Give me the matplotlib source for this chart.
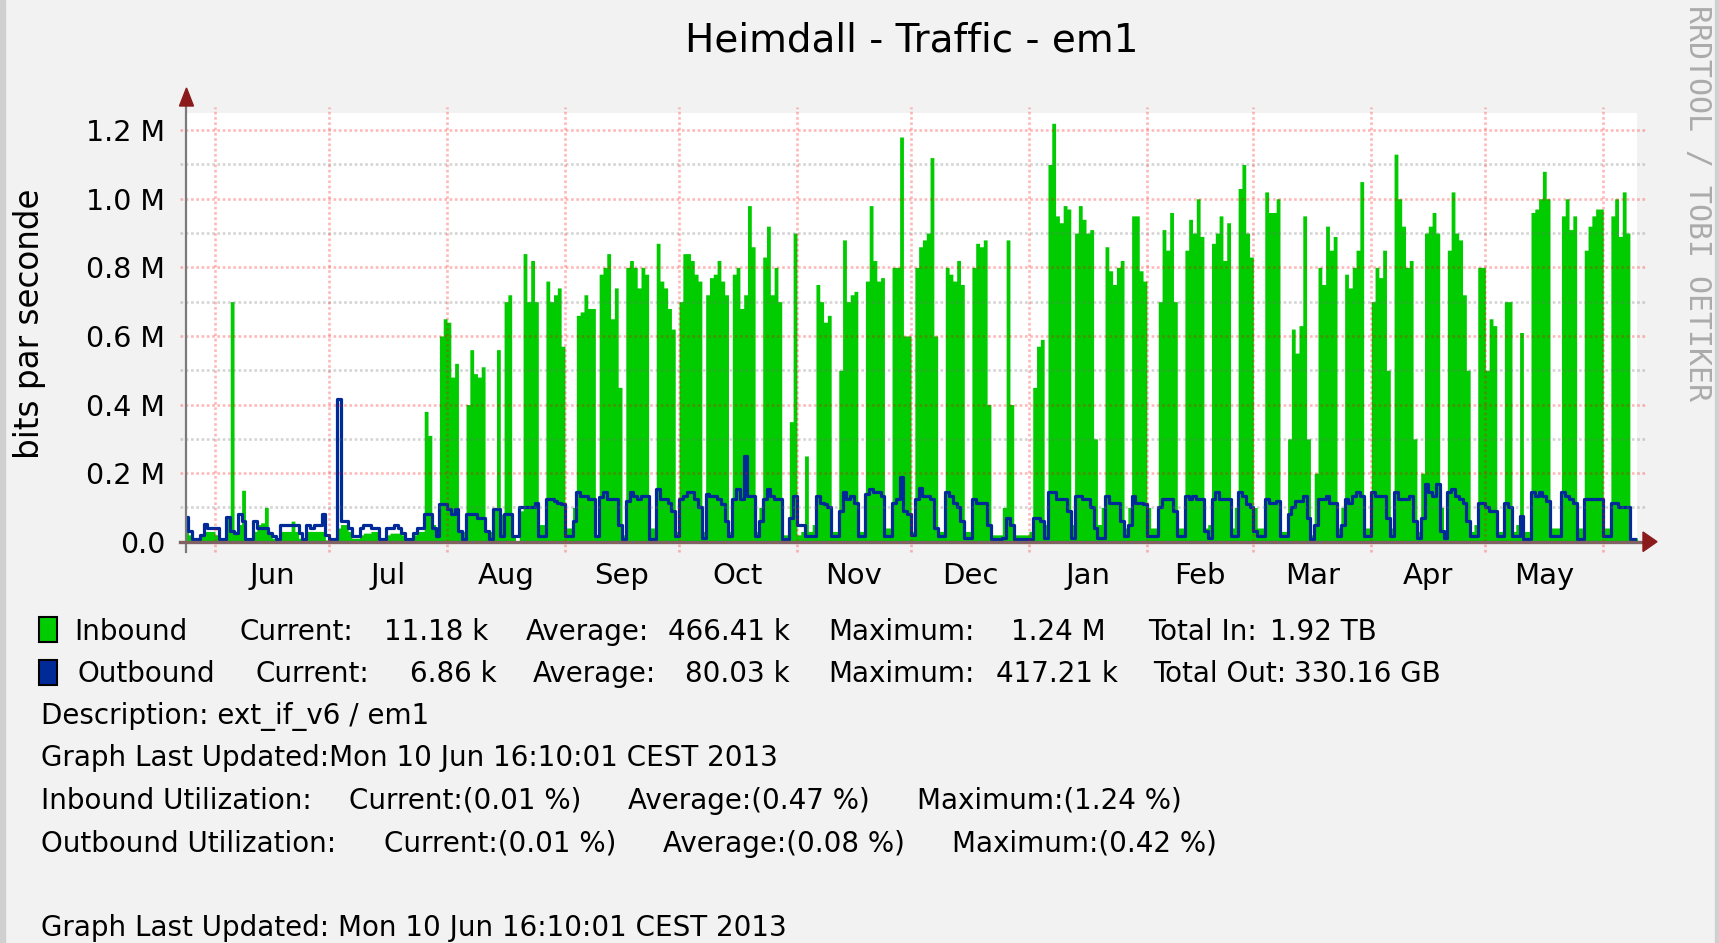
import numpy as np
import matplotlib
matplotlib.use("Agg")
import matplotlib.pyplot as plt
import matplotlib.dates as mdates
from matplotlib.patches import Rectangle, Polygon
from datetime import datetime

plt.rcParams['font.family'] = ['DejaVu Sans']

# ---------------- data ----------------
title = "Heimdall - Traffic - em1"
ylabel = "bits par seconde"
start_date = datetime(2012, 5, 24)          # first daily sample
month_starts = [datetime(2012, m, 1) for m in range(6, 13)] + \
               [datetime(2013, m, 1) for m in range(1, 7)]
month_labels = ['Jun', 'Jul', 'Aug', 'Sep', 'Oct', 'Nov', 'Dec',
                'Jan', 'Feb', 'Mar', 'Apr', 'May']
ytick_values = [0.0, 0.2, 0.4, 0.6, 0.8, 1.0, 1.2]
ytick_labels = ['0.0', '0.2 M', '0.4 M', '0.6 M', '0.8 M', '1.0 M', '1.2 M']

# daily averages, in M bits per second
inbound = [
    0.03, 0.02, 0.003, 0.003, 0.02, 0.03, 0.03, 0.03, 0.02, 0.003,
    0.003, 0.07, 0.70, 0.03, 0.05, 0.15, 0.003, 0.003, 0.03, 0.05,
    0.055, 0.10, 0.03, 0.01, 0.003, 0.03, 0.03, 0.03, 0.06, 0.03,
    0.01, 0.003, 0.03, 0.03, 0.03, 0.03, 0.03, 0.005, 0.003, 0.003,
    0.04, 0.05, 0.05, 0.03, 0.01, 0.01, 0.02, 0.025, 0.025, 0.03,
    0.03, 0.003, 0.003, 0.02, 0.025, 0.025, 0.025, 0.02, 0.003, 0.003,
    0.02, 0.03, 0.03, 0.38, 0.31, 0.05, 0.02, 0.60, 0.65, 0.64,
    0.48, 0.52, 0.03, 0.03, 0.40, 0.56, 0.49, 0.48, 0.51, 0.03,
    0.03, 0.10, 0.56, 0.08, 0.70, 0.72, 0.02, 0.003, 0.09, 0.84,
    0.70, 0.82, 0.70, 0.05, 0.05, 0.76, 0.70, 0.72, 0.74, 0.57,
    0.04, 0.04, 0.10, 0.66, 0.67, 0.72, 0.68, 0.68, 0.02, 0.78,
    0.80, 0.84, 0.65, 0.74, 0.45, 0.02, 0.80, 0.82, 0.80, 0.74,
    0.80, 0.78, 0.04, 0.04, 0.87, 0.76, 0.74, 0.68, 0.62, 0.03,
    0.70, 0.84, 0.84, 0.82, 0.78, 0.76, 0.03, 0.72, 0.77, 0.78,
    0.82, 0.76, 0.72, 0.03, 0.78, 0.80, 0.68, 0.72, 0.98, 0.86,
    0.03, 0.10, 0.83, 0.92, 0.72, 0.80, 0.70, 0.02, 0.02, 0.35,
    0.90, 0.02, 0.03, 0.25, 0.03, 0.05, 0.75, 0.70, 0.64, 0.66,
    0.03, 0.03, 0.50, 0.88, 0.70, 0.72, 0.73, 0.03, 0.03, 0.76,
    0.98, 0.82, 0.76, 0.77, 0.04, 0.04, 0.80, 0.80, 1.18, 0.60,
    0.60, 0.03, 0.80, 0.86, 0.88, 0.90, 1.12, 0.60, 0.03, 0.03,
    0.80, 0.78, 0.76, 0.82, 0.75, 0.03, 0.03, 0.80, 0.87, 0.86,
    0.88, 0.40, 0.02, 0.02, 0.02, 0.10, 0.88, 0.40, 0.02, 0.02,
    0.02, 0.02, 0.03, 0.45, 0.57, 0.59, 0.05, 1.10, 1.22, 0.95,
    0.93, 0.98, 0.97, 0.05, 0.90, 0.98, 0.94, 0.90, 0.91, 0.30,
    0.05, 0.10, 0.86, 0.79, 0.75, 0.80, 0.82, 0.04, 0.10, 0.95,
    0.95, 0.79, 0.76, 0.10, 0.04, 0.04, 0.70, 0.91, 0.85, 0.96,
    0.70, 0.04, 0.04, 0.85, 0.94, 0.90, 1.00, 0.89, 0.04, 0.05,
    0.87, 0.90, 0.95, 0.82, 0.93, 0.04, 0.10, 1.03, 1.10, 0.90,
    0.83, 0.10, 0.04, 0.04, 1.02, 0.96, 0.96, 1.00, 0.03, 0.03,
    0.30, 0.62, 0.55, 0.63, 0.95, 0.30, 0.02, 0.20, 0.80, 0.75,
    0.92, 0.85, 0.89, 0.04, 0.10, 0.78, 0.74, 0.80, 0.85, 1.05,
    0.04, 0.04, 0.70, 0.80, 0.77, 0.85, 0.50, 0.04, 1.13, 1.00,
    0.92, 0.80, 0.82, 0.30, 0.03, 0.20, 0.90, 0.92, 0.96, 0.90,
    0.10, 0.03, 0.85, 1.02, 0.90, 0.88, 0.72, 0.50, 0.03, 0.05,
    0.80, 0.80, 0.50, 0.65, 0.63, 0.03, 0.03, 0.70, 0.70, 0.03,
    0.05, 0.61, 0.03, 0.03, 0.96, 0.97, 1.00, 1.08, 1.00, 0.04,
    0.04, 0.04, 0.95, 1.00, 0.91, 0.95, 0.04, 0.04, 0.85, 0.92,
    0.95, 0.97, 0.97, 0.04, 0.04, 0.95, 1.00, 0.89, 1.02, 0.90,
    0.011, 0.011,
]
outbound = [
    0.072, 0.03, 0.007, 0.007, 0.02, 0.052, 0.04, 0.04, 0.04, 0.007,
    0.007, 0.072, 0.03, 0.026, 0.08, 0.06, 0.007, 0.007, 0.06, 0.04,
    0.04, 0.04, 0.026, 0.017, 0.007, 0.05, 0.05, 0.05, 0.05, 0.05,
    0.026, 0.007, 0.05, 0.04, 0.05, 0.05, 0.08, 0.02, 0.007, 0.007,
    0.415, 0.06, 0.06, 0.04, 0.017, 0.017, 0.04, 0.05, 0.05, 0.04,
    0.04, 0.007, 0.007, 0.04, 0.04, 0.05, 0.04, 0.026, 0.007, 0.007,
    0.026, 0.04, 0.04, 0.08, 0.08, 0.04, 0.017, 0.11, 0.11, 0.094,
    0.08, 0.094, 0.03, 0.007, 0.08, 0.08, 0.08, 0.07, 0.07, 0.03,
    0.007, 0.094, 0.094, 0.017, 0.08, 0.08, 0.017, 0.017, 0.10, 0.10,
    0.10, 0.10, 0.114, 0.017, 0.017, 0.124, 0.124, 0.12, 0.114, 0.11,
    0.017, 0.017, 0.06, 0.146, 0.133, 0.133, 0.124, 0.124, 0.017, 0.13,
    0.146, 0.124, 0.124, 0.124, 0.05, 0.007, 0.12, 0.146, 0.133, 0.124,
    0.133, 0.133, 0.007, 0.007, 0.155, 0.124, 0.124, 0.114, 0.09, 0.017,
    0.124, 0.133, 0.146, 0.146, 0.124, 0.10, 0.01, 0.14, 0.133, 0.133,
    0.124, 0.11, 0.06, 0.017, 0.124, 0.155, 0.124, 0.25, 0.133, 0.133,
    0.017, 0.06, 0.124, 0.155, 0.133, 0.124, 0.124, 0.007, 0.007, 0.07,
    0.133, 0.05, 0.05, 0.017, 0.017, 0.017, 0.133, 0.114, 0.11, 0.10,
    0.017, 0.017, 0.09, 0.146, 0.124, 0.133, 0.114, 0.017, 0.017, 0.14,
    0.155, 0.146, 0.146, 0.133, 0.017, 0.017, 0.114, 0.124, 0.19, 0.09,
    0.08, 0.02, 0.124, 0.158, 0.133, 0.133, 0.124, 0.04, 0.017, 0.017,
    0.146, 0.133, 0.114, 0.10, 0.06, 0.01, 0.01, 0.124, 0.114, 0.114,
    0.114, 0.05, 0.007, 0.007, 0.007, 0.01, 0.07, 0.05, 0.007, 0.007,
    0.007, 0.007, 0.007, 0.07, 0.07, 0.06, 0.01, 0.146, 0.146, 0.124,
    0.124, 0.124, 0.09, 0.01, 0.133, 0.133, 0.124, 0.124, 0.10, 0.04,
    0.01, 0.01, 0.133, 0.114, 0.114, 0.114, 0.06, 0.017, 0.05, 0.133,
    0.114, 0.114, 0.11, 0.017, 0.017, 0.017, 0.10, 0.124, 0.124, 0.124,
    0.09, 0.017, 0.017, 0.133, 0.124, 0.133, 0.124, 0.124, 0.03, 0.01,
    0.124, 0.146, 0.124, 0.124, 0.124, 0.017, 0.017, 0.146, 0.133, 0.11,
    0.10, 0.03, 0.017, 0.017, 0.124, 0.114, 0.114, 0.12, 0.017, 0.017,
    0.08, 0.10, 0.12, 0.12, 0.133, 0.07, 0.007, 0.05, 0.124, 0.124,
    0.133, 0.114, 0.114, 0.017, 0.05, 0.124, 0.114, 0.133, 0.146, 0.133,
    0.017, 0.017, 0.146, 0.133, 0.133, 0.133, 0.07, 0.017, 0.146, 0.124,
    0.124, 0.124, 0.133, 0.06, 0.01, 0.07, 0.168, 0.146, 0.133, 0.168,
    0.03, 0.01, 0.146, 0.155, 0.133, 0.124, 0.114, 0.06, 0.017, 0.017,
    0.114, 0.114, 0.10, 0.09, 0.09, 0.017, 0.017, 0.114, 0.10, 0.017,
    0.017, 0.075, 0.007, 0.007, 0.146, 0.133, 0.146, 0.133, 0.12, 0.017,
    0.017, 0.017, 0.146, 0.133, 0.124, 0.114, 0.007, 0.007, 0.124, 0.124,
    0.124, 0.124, 0.124, 0.017, 0.017, 0.114, 0.114, 0.101, 0.101, 0.10,
    0.007, 0.007,
]

legend_rows = [
    # (baseline px, [(x px, text), ...])
    (639.5, [(74.5, 'Inbound'), (239, 'Current:'), (384, '11.18 k'), (526, 'Average:'),
             (668, '466.41 k'), (828, 'Maximum:'), (1011, '1.24 M'), (1148, 'Total In:'),
             (1270, '1.92 TB')]),
    (682, [(77, 'Outbound'), (255.5, 'Current:'), (410, '6.86 k'), (533, 'Average:'),
           (685, '80.03 k'), (828, 'Maximum:'), (996, '417.21 k'), (1153.5, 'Total Out:'),
           (1294, '330.16 GB')]),
    (724, [(40.5, 'Description: ext_if_v6 / em1')]),
    (766.5, [(40.5, 'Graph Last Updated:Mon 10 Jun 16:10:01 CEST 2013')]),
    (809, [(40.5, 'Inbound Utilization:'), (349, 'Current:(0.01 %)'),
           (628, 'Average:(0.47 %)'), (917, 'Maximum:(1.24 %)')]),
    (851.5, [(40.5, 'Outbound Utilization:'), (384, 'Current:(0.01 %)'),
             (663, 'Average:(0.08 %)'), (952, 'Maximum:(0.42 %)')]),
    (936.5, [(40.5, 'Graph Last Updated: Mon 10 Jun 16:10:01 CEST 2013')]),
]

# ---------------- figure ----------------
W, H = 1719, 943
fig = plt.figure(figsize=(W / 100, H / 100), dpi=100)
fig.patch.set_facecolor('#F2F2F2')

def fx(px):
    return px / W

def fy(py):
    return 1 - py / H

L, R, TOP, BOT = 186, 1637, 113, 541.7
ax = fig.add_axes([fx(L), fy(BOT), (R - L) / W, (BOT - TOP) / H])
ax.set_facecolor('white')
for s in ax.spines.values():
    s.set_visible(False)

GREEN = '#00CC00'
BLUE = '#002A97'

base = mdates.date2num(start_date)
n = min(len(inbound), len(outbound))
edges = base + np.arange(n + 1)
inb = np.append(np.array(inbound[:n]), inbound[n - 1])
outb = np.append(np.array(outbound[:n]), outbound[n - 1])

ax.fill_between(edges, 0, inb, step='post', color=GREEN, lw=0, zorder=2)
ax.step(edges, outb, where='post', color=BLUE, lw=2.3, zorder=3)

ax.set_xlim(base + 0.37, base + 381.87)
ax.set_ylim(0, 1.25)

pw, ph = R - L, BOT - TOP
minor_y = [0.1, 0.3, 0.5, 0.7, 0.9, 1.1]
major_y = [v for v in ytick_values if v > 0]
ax.hlines(minor_y, -6 / pw, 1 + 8 / pw, transform=ax.get_yaxis_transform(),
          colors=[(0.45, 0.45, 0.45, 0.3)], linestyles=[(0, (1, 1))], lw=1.9,
          zorder=4, clip_on=False)
ax.hlines(major_y, -6 / pw, 1 + 8 / pw, transform=ax.get_yaxis_transform(),
          colors=[(1, 0, 0, 0.28)], linestyles=[(0, (1, 1))], lw=1.9,
          zorder=4, clip_on=False)
mnums = mdates.date2num(month_starts)
ax.vlines(mnums, -10 / ph, 1 + 6 / ph, transform=ax.get_xaxis_transform(),
          colors=[(1, 0, 0, 0.28)], linestyles=[(0, (1, 1))], lw=1.9,
          zorder=4, clip_on=False)

# axes lines
ax.plot([0, 0], [-10 / ph, 1 + 8 / ph], transform=ax.transAxes, color='#7A7A7A',
        lw=1.6, clip_on=False, zorder=6)
ax.plot([-6 / pw, 1 + 8 / pw], [0, 0], transform=ax.transAxes, color='#806262',
        lw=2.4, clip_on=False, zorder=6)
ARROW = '#8B1A1A'
fig.patches.append(Polygon([(fx(186.5), fy(88)), (fx(179.5), fy(106)), (fx(193.5), fy(106))],
                           closed=True, transform=fig.transFigure, color=ARROW, zorder=7))
fig.patches.append(Polygon([(fx(1657), fy(541.7)), (fx(1643), fy(532)), (fx(1643), fy(551.5))],
                           closed=True, transform=fig.transFigure, color=ARROW, zorder=7))

# ticks
ax.set_yticks(ytick_values)
ax.set_yticklabels(ytick_labels)
ax.tick_params(axis='y', length=0, pad=15, labelsize=20.5, labelcolor='black')
mids = (mnums[:-1] + mnums[1:]) / 2
ax.set_xticks(mids)
ax.set_xticklabels(month_labels)
ax.tick_params(axis='x', length=0, pad=14.5, labelsize=21, labelcolor='black')

# title, y label, watermark
fig.text(fx(911.5), fy(52), title, ha='center', va='baseline', fontsize=28, color='black')
fig.text(fx(30), fy(323.5), ylabel, rotation=90, ha='center', va='center', fontsize=23.5,
         color='black')
fig.text(fx(1697), fy(5), 'RRDTOOL / TOBI OETIKER', rotation=270, ha='center', va='top',
         fontsize=21.5, color='#ABABAB', family='DejaVu Sans Mono')

# frame strips
fig.patches.append(Rectangle((0, 0), fx(5), 1, transform=fig.transFigure,
                             color='#D0D0D0', zorder=0))
fig.patches.append(Rectangle((fx(1715), 0), fx(4), 1, transform=fig.transFigure,
                             color='#D0D0D0', zorder=0))

# legend swatches
fig.patches.append(Rectangle((fx(38.5), fy(642)), 18.5 / W, 25 / H, transform=fig.transFigure,
                             facecolor=GREEN, edgecolor='black', lw=1.5, zorder=7))
fig.patches.append(Rectangle((fx(38.5), fy(684.5)), 18.5 / W, 25 / H, transform=fig.transFigure,
                             facecolor=BLUE, edgecolor='black', lw=1.5, zorder=7))

for baseline, items in legend_rows:
    for x, s in items:
        fig.text(fx(x), fy(baseline), s, ha='left', va='baseline', fontsize=20, color='black')

fig.savefig('out.png', dpi=100, facecolor=fig.get_facecolor())
